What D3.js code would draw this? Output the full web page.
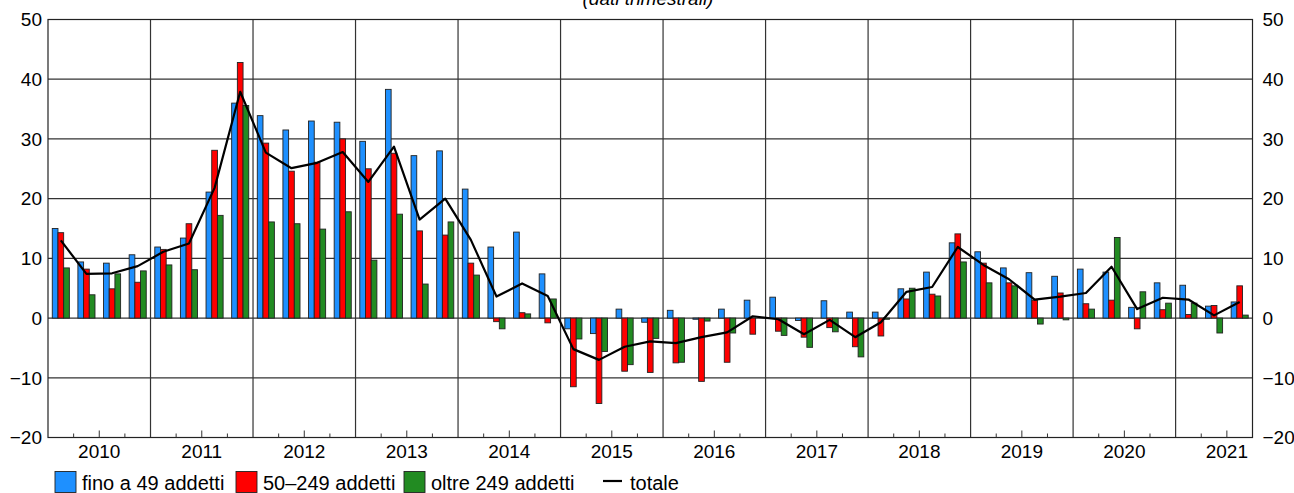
<!DOCTYPE html>
<html>
<head>
<meta charset="utf-8">
<script src="https://cdn.jsdelivr.net/npm/d3@7"></script>
<style>
    body { margin: 0; background: #fff; }
    svg { display: block; font-family: "Liberation Sans", Arial, sans-serif; }
</style>
</head>
<body>
<svg id="chart"></svg>
<script>
// quarters 2010Q1 .. 2021Q3
let years = [2010, 2011, 2012, 2013, 2014, 2015, 2016, 2017, 2018, 2019, 2020, 2021];
let quarters = [
    "2010Q1", "2010Q2", "2010Q3", "2010Q4", "2011Q1", "2011Q2", "2011Q3", "2011Q4",
    "2012Q1", "2012Q2", "2012Q3", "2012Q4", "2013Q1", "2013Q2", "2013Q3", "2013Q4",
    "2014Q1", "2014Q2", "2014Q3", "2014Q4", "2015Q1", "2015Q2", "2015Q3", "2015Q4",
    "2016Q1", "2016Q2", "2016Q3", "2016Q4", "2017Q1", "2017Q2", "2017Q3", "2017Q4",
    "2018Q1", "2018Q2", "2018Q3", "2018Q4", "2019Q1", "2019Q2", "2019Q3", "2019Q4",
    "2020Q1", "2020Q2", "2020Q3", "2020Q4", "2021Q1", "2021Q2", "2021Q3"
];

let fino49 = [
    15.0, 9.4, 9.2, 10.6, 11.9, 13.4, 21.1, 36.0,
    33.9, 31.5, 33.0, 32.8, 29.6, 38.3, 27.2, 28.0,
    21.6, 11.9, 14.4, 7.4, -1.8, -2.6, 1.5, -0.7,
    1.3, -0.2, 1.5, 3.0, 3.5, -0.4, 2.9, 1.0,
    1.0, 4.9, 7.7, 12.6, 11.1, 8.4, 7.6, 7.0,
    8.2, 7.7, 1.8, 5.9, 5.5, 2.0, 2.7
];
let da50a249 = [
    14.3, 8.2, 4.9, 6.0, 11.5, 15.8, 28.1, 42.8,
    29.3, 24.6, 26.1, 30.0, 25.0, 27.6, 14.6, 13.9,
    9.2, -0.6, 0.9, -0.8, -11.5, -14.3, -8.9, -9.1,
    -7.5, -10.6, -7.4, -2.7, -2.2, -3.2, -1.6, -4.8,
    -3.0, 3.2, 4.0, 14.1, 9.2, 5.9, 3.0, 4.2,
    2.4, 3.0, -1.8, 1.4, 0.6, 2.1, 5.4
];
let oltre249 = [
    8.4, 3.9, 7.4, 7.9, 8.9, 8.1, 17.2, 35.6,
    16.1, 15.8, 14.9, 17.8, 9.7, 17.4, 5.7, 16.1,
    7.2, -1.8, 0.7, 3.2, -3.5, -5.6, -7.8, -3.4,
    -7.4, -0.5, -2.5, 0.0, -2.9, -4.9, -2.3, -6.5,
    -0.2, 5.0, 3.7, 9.4, 5.9, 5.4, -1.0, -0.3,
    1.5, 13.5, 4.4, 2.5, 2.5, -2.5, 0.5
];
let totale = [
    13.0, 7.4, 7.5, 8.7, 11.1, 12.5, 21.8, 37.9,
    27.7, 25.1, 26.0, 27.8, 22.8, 28.7, 16.5, 20.0,
    13.1, 3.6, 5.8, 3.7, -5.2, -7.0, -4.8, -3.9,
    -4.2, -3.2, -2.4, 0.3, -0.2, -2.7, -0.3, -3.2,
    -0.7, 4.4, 5.2, 11.9, 8.9, 6.5, 3.1, 3.6,
    4.2, 8.6, 1.5, 3.4, 3.1, 0.45, 2.7
];

let seriesNames = ["fino a 49 addetti", "50\u2013249 addetti", "oltre 249 addetti"];
let seriesColors = ["#1e90ff", "#ff0000", "#228b22"];
let yTicks = [-20, -10, 0, 10, 20, 30, 40, 50];
let title = "(dati trimestrali)";

let barChart = function (options) {
    let self = {};

    for (let key in options) {
        self[key] = options[key];
    }

    self.init = function () {
        self.svg = d3.select("#" + self.parent_id)
            .attr("width", self.width)
            .attr("height", self.height);

        self.innerW = self.width - self.margin.left - self.margin.right;
        self.innerH = self.height - self.margin.top - self.margin.bottom;

        self.x = d3.scaleBand()
            .domain(quarters)
            .range([self.margin.left, self.margin.left + self.innerW])
            .padding(0);

        self.xSub = d3.scaleBand()
            .domain([0, 1, 2])
            .range([0, self.x.bandwidth()])
            .paddingInner(0)
            .paddingOuter(0.75);

        self.y = d3.scaleLinear()
            .domain([-20, 50])
            .range([self.margin.top + self.innerH, self.margin.top]);

        self.g = self.svg.append("g");
    };

    self.render = function () {
        let x = self.x, y = self.y, xSub = self.xSub;
        let left = self.margin.left, right = self.margin.left + self.innerW;
        let top = self.margin.top, bottom = self.margin.top + self.innerH;

        // horizontal grid
        self.g.append("g")
            .selectAll("line")
            .data(yTicks)
            .enter()
            .append("line")
            .attr("x1", left).attr("x2", right)
            .attr("y1", d => y(d)).attr("y2", d => y(d))
            .style("stroke", "#333")
            .style("stroke-width", 1.2);

        // year separators
        self.g.append("g")
            .selectAll("line")
            .data(years.slice(1))
            .enter()
            .append("line")
            .attr("x1", d => x(d + "Q1")).attr("x2", d => x(d + "Q1"))
            .attr("y1", top).attr("y2", bottom)
            .style("stroke", "#333")
            .style("stroke-width", 1.2);

        // bars
        let seriesData = [fino49, da50a249, oltre249];
        seriesData.forEach(function (values, s) {
            self.g.append("g")
                .selectAll("rect")
                .data(values)
                .enter()
                .append("rect")
                .attr("x", (d, i) => x(quarters[i]) + xSub(s))
                .attr("width", xSub.bandwidth())
                .attr("y", d => y(Math.max(0, d)))
                .attr("height", d => Math.abs(y(d) - y(0)))
                .style("fill", seriesColors[s])
                .style("stroke", "#222")
                .style("stroke-width", 0.9);
        });

        // total line
        let line = d3.line()
            .x((d, i) => x(quarters[i]) + x.bandwidth() / 2)
            .y(d => y(d));

        self.g.append("path")
            .datum(totale)
            .attr("d", line)
            .style("fill", "none")
            .style("stroke", "#000")
            .style("stroke-width", 2.2)
            .style("stroke-linejoin", "round");

        // frame
        self.g.append("rect")
            .attr("x", left).attr("y", top)
            .attr("width", self.innerW).attr("height", self.innerH)
            .style("fill", "none")
            .style("stroke", "#222")
            .style("stroke-width", 1.2);

        // quarter ticks on the bottom axis
        self.g.append("g")
            .selectAll("line")
            .data(quarters.filter(q => !q.endsWith("Q1")))
            .enter()
            .append("line")
            .attr("x1", d => x(d)).attr("x2", d => x(d))
            .attr("y1", bottom)
            .attr("y2", d => d.endsWith("Q3") ? bottom - 7 : bottom - 4)
            .style("stroke", "#333")
            .style("stroke-width", 1);

        // year labels
        self.g.append("g")
            .selectAll("text")
            .data(years)
            .enter()
            .append("text")
            .attr("x", d => x(d + "Q1") + 2 * x.bandwidth())
            .attr("y", bottom + 20)
            .attr("text-anchor", "middle")
            .attr("font-size", "19px")
            .attr("fill", "#000")
            .text(d => d);

        // y labels, both sides
        let fmt = d => d < 0 ? "\u2212" + Math.abs(d) : String(d);
        self.g.append("g")
            .selectAll("text")
            .data(yTicks)
            .enter()
            .append("text")
            .attr("x", left - 6)
            .attr("y", d => y(d) + 6.8)
            .attr("text-anchor", "end")
            .attr("font-size", "19px")
            .text(fmt);

        self.g.append("g")
            .selectAll("text")
            .data(yTicks)
            .enter()
            .append("text")
            .attr("x", right + 10)
            .attr("y", d => y(d) + 6.8)
            .attr("text-anchor", "start")
            .attr("font-size", "19px")
            .text(fmt);

        // title, cut by the top edge as in the original
        self.g.append("text")
            .attr("x", 648)
            .attr("y", 5)
            .attr("text-anchor", "middle")
            .attr("font-size", "19px")
            .attr("font-style", "italic")
            .text(title);

        self.renderLegend();
    };

    self.renderLegend = function () {
        let legendX = [55, 236, 404];
        let lg = self.g.append("g");

        seriesNames.forEach(function (name, s) {
            lg.append("rect")
                .attr("x", legendX[s]).attr("y", 471.5)
                .attr("width", 21).attr("height", 21)
                .style("fill", seriesColors[s])
                .style("stroke", "#222")
                .style("stroke-width", 0.9);
            lg.append("text")
                .attr("x", legendX[s] + 27)
                .attr("y", 490)
                .attr("font-size", "20px")
                .text(name);
        });

        lg.append("line")
            .attr("x1", 603).attr("x2", 622)
            .attr("y1", 481).attr("y2", 481)
            .style("stroke", "#000")
            .style("stroke-width", 2.2);
        lg.append("text")
            .attr("x", 630)
            .attr("y", 490)
            .attr("font-size", "20px")
            .text("totale");
    };

    self.init();
    return self;
};

let chart = barChart({
    parent_id: "chart",
    width: 1294,
    height: 493,
    margin: {top: 19.5, right: 41.5, bottom: 55.5, left: 48}
});
chart.render();
</script>
</body>
</html>
